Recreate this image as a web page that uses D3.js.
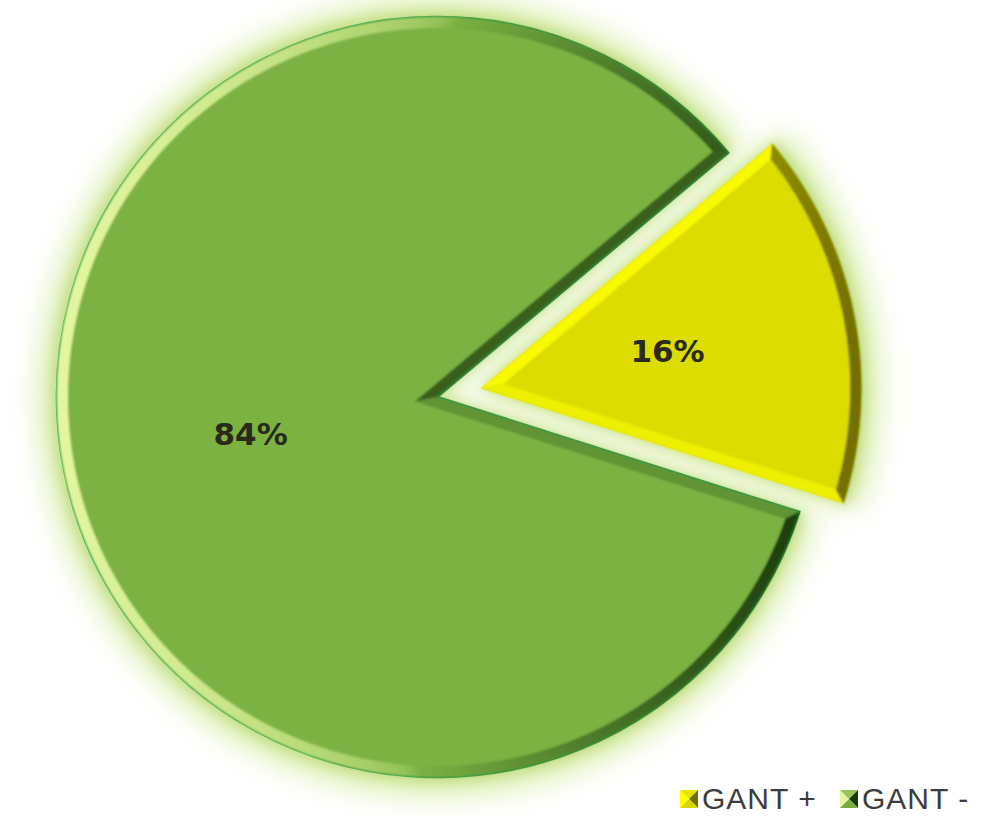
<!DOCTYPE html>
<html>
<head>
<meta charset="utf-8">
<script src="https://cdn.jsdelivr.net/npm/d3@7"></script>
<style>
  body { margin: 0; background: #fff; }
  svg { display: block; }
</style>
</head>
<body>
<svg></svg>
<script>
// data
var labels = ["GANT +", "GANT -"];
var values = [16, 84];
var percentText = ["16%", "84%"];
var exploded = [true, false];

var width = 1002,
    height = 819;

var baseColors = ["#dcdc00", "#7cb243"],
    hiColors = ["#ffff00", "#e4f7a0"],
    loColors = ["#726e00", "#173a0c"];

var light = [-1, -0.05];
var radius = 380,
    bevel = 11,
    explode = 45;

var svg = d3.select("svg")
    .attr("width", width)
    .attr("height", height);

var defs = svg.append("defs");
defs.append("filter")
    .attr("id", "glowWide")
    .attr("x", "-30%").attr("y", "-30%")
    .attr("width", "160%").attr("height", "160%")
    .append("feGaussianBlur")
    .attr("stdDeviation", 15);
defs.append("filter")
    .attr("id", "glowTight")
    .attr("x", "-30%").attr("y", "-30%")
    .attr("width", "160%").attr("height", "160%")
    .append("feGaussianBlur")
    .attr("stdDeviation", 6);
defs.append("filter")
    .attr("id", "soft")
    .append("feGaussianBlur")
    .attr("stdDeviation", 0.8);

var chart = svg.append("g")
    .attr("transform", "translate(437, 397)");

var start = 50 * Math.PI / 180;
var pie = d3.pie().sort(null)
    .startAngle(start)
    .endAngle(start + Math.PI * 2);
var slices = pie(values);

var outerArc = d3.arc().innerRadius(0).outerRadius(radius);

function polar(r, a) {
    return [r * Math.sin(a), -r * Math.cos(a)];
}

function offsetOf(d, i) {
    if (!exploded[i]) return [0, 0];
    return polar(explode, (d.startAngle + d.endAngle) / 2);
}

function shade(i, a) {
    var n = polar(1, a);
    var s = n[0] * light[0] + n[1] * light[1];
    s = Math.max(-1, Math.min(1, s));
    return s >= 0 ? d3.interpolateRgb(baseColors[i], hiColors[i])(Math.pow(s, 0.45))
                  : d3.interpolateRgb(baseColors[i], loColors[i])(-s);
}

// glow behind everything: a wide pale one and a tighter one
[["glowWide", radius + 16, "#d6eca2"], ["glowTight", radius + 5, "#c3de86"]].forEach(function(gl) {
    var arc = d3.arc().innerRadius(0).outerRadius(gl[1]);
    chart.append("g")
        .attr("filter", "url(#" + gl[0] + ")")
        .selectAll("path")
        .data(slices)
        .enter()
        .append("path")
        .attr("transform", function(d, i) { return "translate(" + offsetOf(d, i) + ")"; })
        .attr("fill", gl[2])
        .attr("d", arc);
});

var sliceG = chart.selectAll(".slice")
    .data(slices)
    .enter()
    .append("g")
    .attr("class", "slice")
    .attr("transform", function(d, i) { return "translate(" + offsetOf(d, i) + ")"; });

sliceG.each(function(d, i) {
    var g = d3.select(this);
    var a0 = d.startAngle, a1 = d.endAngle;
    var r2 = radius - bevel;
    var half = (a1 - a0) / 2;
    var p0 = polar(bevel / Math.sin(half), a0 + half);
    var delta = Math.asin(bevel / r2);
    var q0 = polar(r2, a0 + delta),
        q1 = polar(r2, a1 - delta);

    // base shape with outline
    g.append("path")
        .attr("d", outerArc(d))
        .attr("fill", baseColors[i])
        .attr("stroke", i == 1 ? "#2c9a45" : "none")
        .attr("stroke-width", 2.5);

    var facets = g.append("g").attr("filter", "url(#soft)");

    // straight edge facets
    facets.append("path")
        .attr("d", "M0,0L" + polar(radius, a0) + "L" + q0 + "L" + p0 + "Z")
        .attr("fill", shade(i, a0 - Math.PI / 2));
    facets.append("path")
        .attr("d", "M0,0L" + p0 + "L" + q1 + "L" + polar(radius, a1) + "Z")
        .attr("fill", shade(i, a1 + Math.PI / 2));

    // arc facet, split into small pieces so each can be lit
    var n = Math.ceil((a1 - a0) / (Math.PI / 180)),
        da = (a1 - a0) / n,
        di = (a1 - a0 - 2 * delta) / n;
    var pieces = d3.range(n).map(function(k) {
        return {
            o0: a0 + k * da, o1: a0 + (k + 1) * da,
            i0: a0 + delta + k * di, i1: a0 + delta + (k + 1) * di
        };
    });
    facets.selectAll(".arcfacet")
        .data(pieces)
        .enter()
        .append("path")
        .attr("d", function(p) {
            return "M" + polar(radius, p.o0) + "L" + polar(radius, p.o1) +
                   "L" + polar(r2, p.i1) + "L" + polar(r2, p.i0) + "Z";
        })
        .attr("fill", function(p) { return shade(i, (p.o0 + p.o1) / 2); })
        .attr("stroke", function(p) { return shade(i, (p.o0 + p.o1) / 2); })
        .attr("stroke-width", 0.6);

    // flat top face
    var top = d3.path();
    top.moveTo(p0[0], p0[1]);
    top.lineTo(q0[0], q0[1]);
    top.arc(0, 0, r2, a0 + delta - Math.PI / 2, a1 - delta - Math.PI / 2);
    top.closePath();
    facets.append("path")
        .attr("d", top.toString())
        .attr("fill", baseColors[i]);
});

// percentage labels
var labelArc = d3.arc().innerRadius(0).outerRadius(radius);
sliceG.append("text")
    .attr("transform", function(d) { return "translate(" + labelArc.centroid(d) + ")"; })
    .attr("dy", "0.35em")
    .attr("text-anchor", "middle")
    .attr("font-family", "DejaVu Sans")
    .attr("font-weight", "bold")
    .attr("font-size", 31)
    .attr("fill", "#2a2a1c")
    .text(function(d, i) { return percentText[i]; });

// legend
var legendX = [680, 840];
var legend = svg.selectAll(".legend")
    .data(labels)
    .enter()
    .append("g")
    .attr("class", "legend")
    .attr("transform", function(d, i) { return "translate(" + legendX[i] + ", 790)"; });

var sw = 18;
var tri = [
    { pts: [[0, 0], [sw / 2, sw / 2], [0, sw]], a: -Math.PI / 2 },
    { pts: [[0, 0], [sw, 0], [sw / 2, sw / 2]], a: 0 },
    { pts: [[sw, 0], [sw, sw], [sw / 2, sw / 2]], a: Math.PI / 2 },
    { pts: [[0, sw], [sw / 2, sw / 2], [sw, sw]], a: Math.PI }
];
legend.each(function(d, i) {
    d3.select(this).selectAll("polygon")
        .data(tri)
        .enter()
        .append("polygon")
        .attr("points", function(t) { return t.pts.join(" "); })
        .attr("fill", function(t) { return shade(i, t.a); });
});
legend.append("text")
    .attr("x", 22)
    .attr("y", 19)
    .attr("font-family", "Liberation Sans")
    .attr("font-size", 30)
    .attr("letter-spacing", 1)
    .attr("fill", "#3c3c3c")
    .text(function(d) { return d; });
</script>
</body>
</html>
